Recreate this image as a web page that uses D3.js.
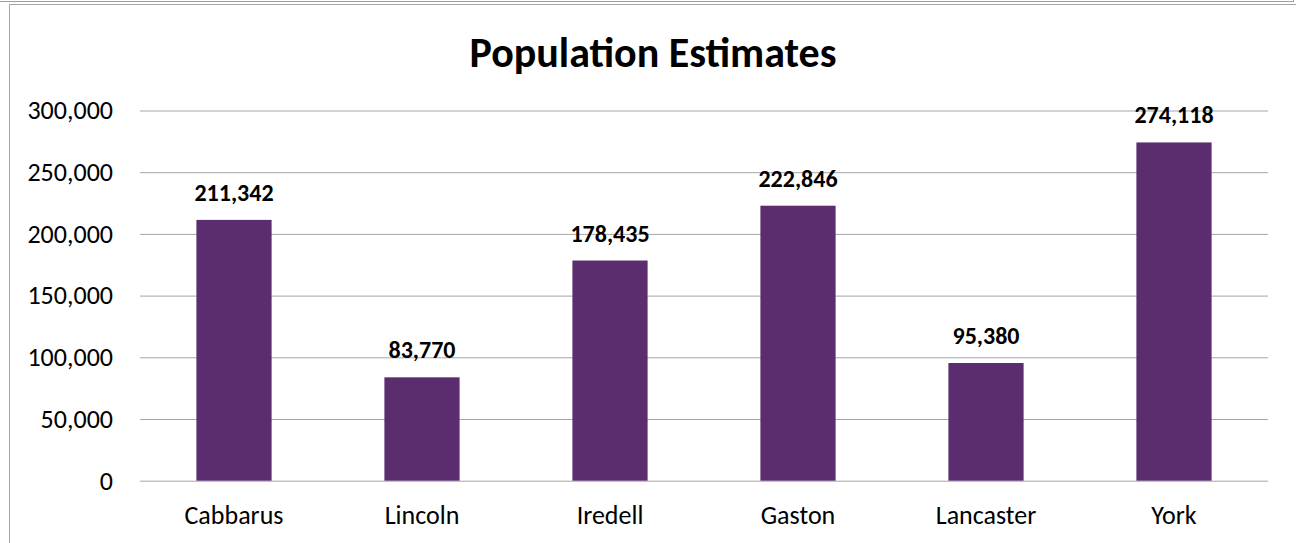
<!DOCTYPE html>
<html>
<head>
<meta charset="utf-8">
<script src="https://cdn.jsdelivr.net/npm/d3@7"></script>
<style>
  body { margin: 0; background: #ffffff; }
  svg { display: block; }
  svg text { font-family: Carlito, Calibri, Lato, sans-serif; }
</style>
</head>
<body>
<div id="chart"></div>
<script>
// data
const COUNTIES = ["Cabbarus", "Lincoln", "Iredell", "Gaston", "Lancaster", "York"];
const POPULATION = [211342, 83770, 178435, 222846, 95380, 274118];
const Y_TICKS = [0, 50000, 100000, 150000, 200000, 250000, 300000];

// frame setup
const FRAME_HEIGHT = 543;
const FRAME_WIDTH = 1296;
const MARGINS = {left: 140, right: 28, top: 110.5, bottom: 62.3};

const VIS_HEIGHT = FRAME_HEIGHT - MARGINS.top - MARGINS.bottom;
const VIS_WIDTH = FRAME_WIDTH - MARGINS.left - MARGINS.right;

const FRAME = d3.select("#chart")
                  .append("svg")
                    .attr("height", FRAME_HEIGHT)
                    .attr("width", FRAME_WIDTH);

// sheet border lines round the chart object
FRAME.append("line")
    .attr("x1", 0).attr("x2", 1293).attr("y1", 1.5).attr("y2", 1.5)
    .attr("stroke", "#a0a0a0").attr("stroke-width", 1);
FRAME.append("line")
    .attr("x1", 1293.5).attr("x2", 1293.5).attr("y1", 0).attr("y2", 2)
    .attr("stroke", "#a0a0a0").attr("stroke-width", 1);
FRAME.append("line")
    .attr("x1", 9).attr("x2", FRAME_WIDTH).attr("y1", 4.5).attr("y2", 4.5)
    .attr("stroke", "#a8a8a8").attr("stroke-width", 1);
FRAME.append("line")
    .attr("x1", 9.5).attr("x2", 9.5).attr("y1", 4).attr("y2", FRAME_HEIGHT)
    .attr("stroke", "#a8a8a8").attr("stroke-width", 1);

// scales
const X_SCALE = d3.scaleBand()
                    .domain(COUNTIES)
                    .range([0, VIS_WIDTH])
                    .paddingInner(0.6)
                    .paddingOuter(0.3);
const Y_SCALE = d3.scaleLinear()
                    .domain([0, 300000])
                    .range([VIS_HEIGHT, 0]);

// y axis with gridlines
const yAxis = FRAME.append("g")
    .attr("transform", "translate(" + MARGINS.left + "," + MARGINS.top + ")")
    .call(d3.axisLeft(Y_SCALE)
            .tickValues(Y_TICKS)
            .tickFormat(d3.format(","))
            .tickSize(-VIS_WIDTH)
            .tickPadding(27))
    .attr("font-family", null);
yAxis.select(".domain").remove();
yAxis.selectAll(".tick line")
    .attr("stroke", "#a6a6a6");
yAxis.selectAll(".tick text")
    .attr("font-size", "26px")
    .attr("fill", "#000000");

// bars
const data = COUNTIES.map((c, i) => ({county: c, value: POPULATION[i]}));

FRAME.selectAll(".bar")
    .data(data)
    .enter()
    .append("rect")
      .attr("class", "bar")
      .attr("x", (d) => { return X_SCALE(d.county) + MARGINS.left; })
      .attr("y", (d) => { return Y_SCALE(d.value) + MARGINS.top; })
      .attr("width", X_SCALE.bandwidth())
      .attr("height", (d) => { return VIS_HEIGHT - Y_SCALE(d.value); })
      .attr("fill", "#5b2d6e");

// value labels above bars
FRAME.selectAll(".label")
    .data(data)
    .enter()
    .append("text")
      .attr("class", "label")
      .attr("x", (d) => { return X_SCALE(d.county) + X_SCALE.bandwidth() / 2 + MARGINS.left; })
      .attr("y", (d) => { return Y_SCALE(d.value) + MARGINS.top - 19; })
      .attr("text-anchor", "middle")
      .attr("font-size", "24px")
      .attr("font-weight", "bold")
      .text((d) => d3.format(",")(d.value));

// x axis (labels only)
const xAxis = FRAME.append("g")
    .attr("transform", "translate(" + MARGINS.left + "," + (VIS_HEIGHT + MARGINS.top) + ")")
    .call(d3.axisBottom(X_SCALE).tickSize(0).tickPadding(25))
    .attr("font-family", null);
xAxis.select(".domain").remove();
xAxis.selectAll(".tick text")
    .attr("font-size", "26px")
    .attr("fill", "#000000");

// title
FRAME.append("text")
    .attr("x", 653)
    .attr("y", 67)
    .attr("text-anchor", "middle")
    .attr("font-size", "42px")
    .attr("font-weight", "bold")
    .text("Population Estimates");
</script>
</body>
</html>
